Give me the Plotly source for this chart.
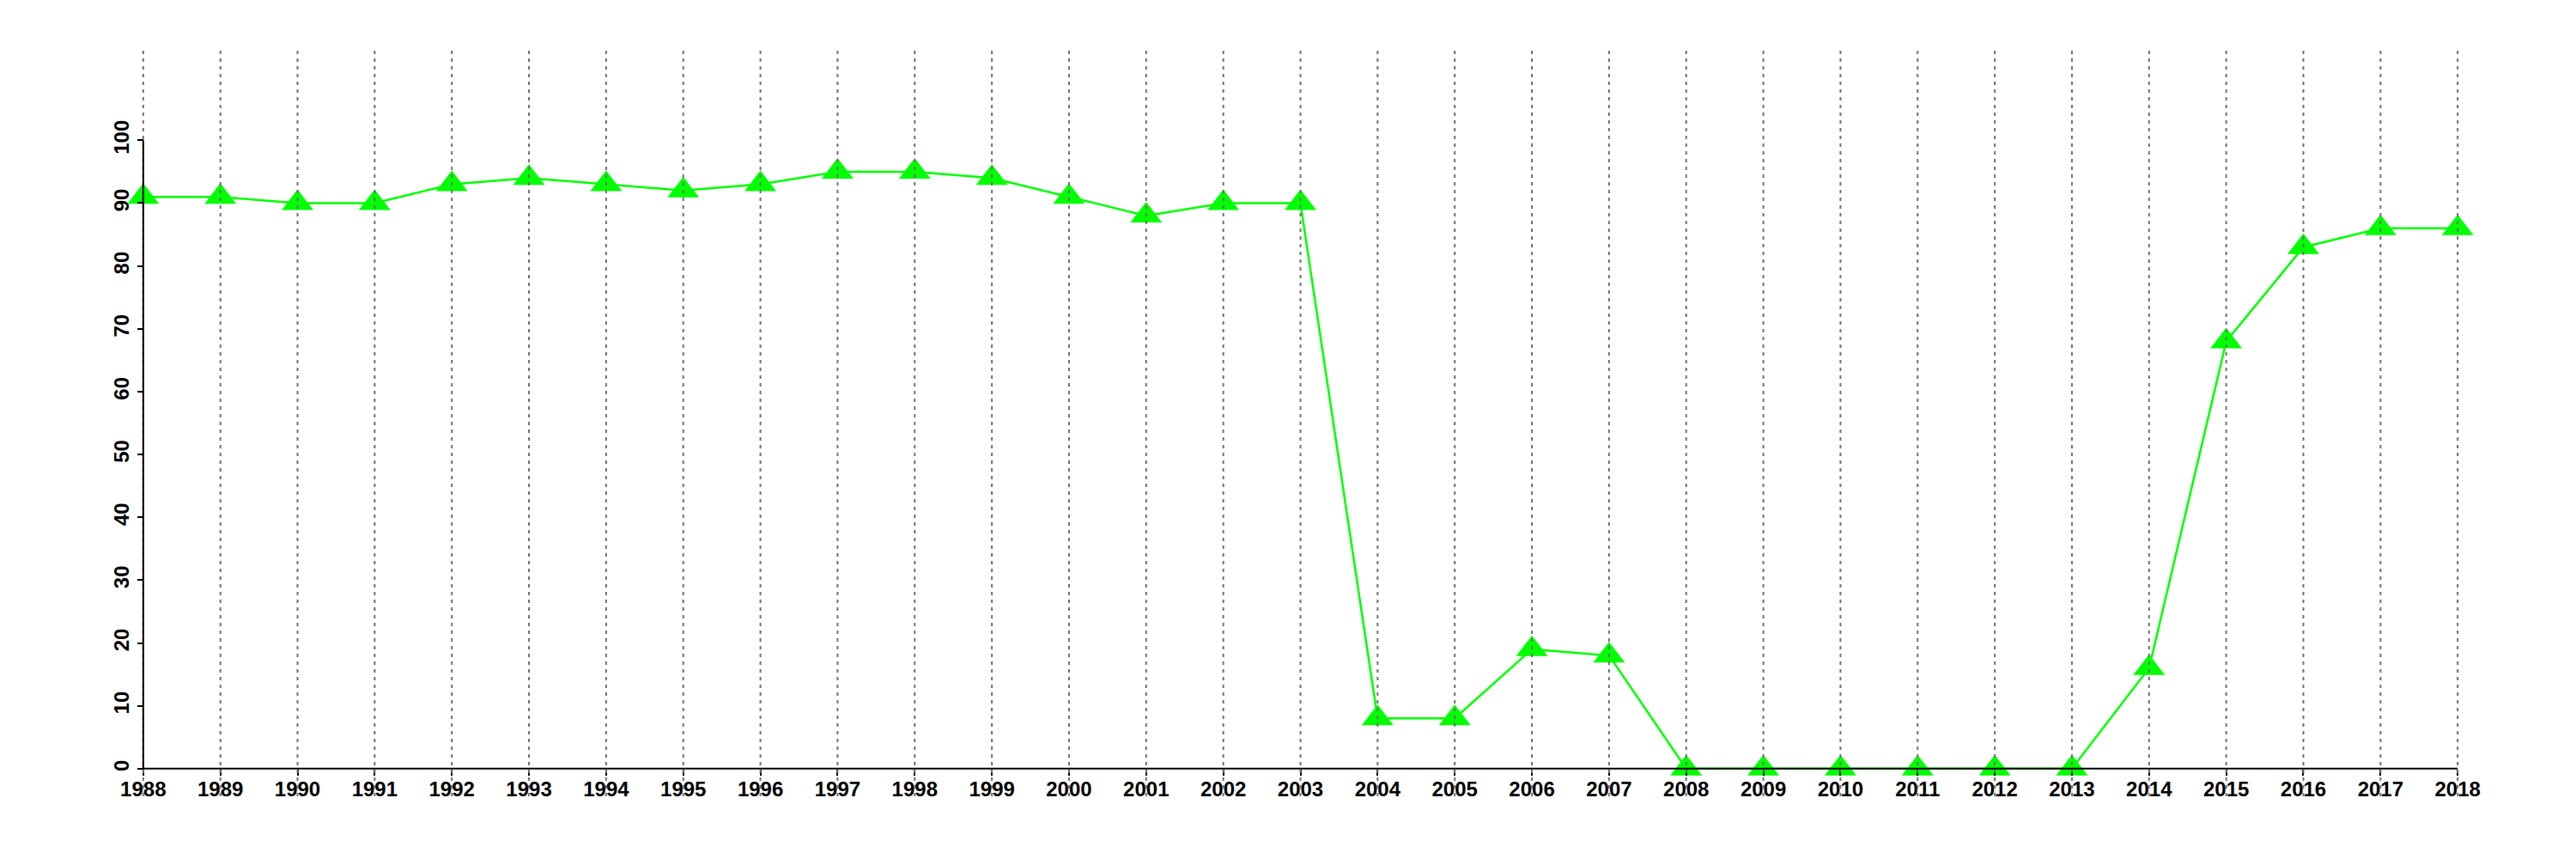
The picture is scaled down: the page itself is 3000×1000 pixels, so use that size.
import plotly.graph_objects as go

years = list(range(1988, 2019))
values = [91, 91, 90, 90, 93, 94, 93, 92, 93, 95, 95, 94, 91, 88, 90, 90,
          8, 8, 19, 18, 0, 0, 0, 0, 0, 0, 16, 68, 83, 86, 86]
y_ticks = [0, 10, 20, 30, 40, 50, 60, 70, 80, 90, 100]
y_lim = [0, 110]

pad_x = 0.04 * (years[-1] - years[0])
pad_y = 0.04 * (y_lim[1] - y_lim[0])
x_range = [years[0] - pad_x, years[-1] + pad_x]
y_range = [y_lim[0] - pad_y, y_lim[1] + pad_y]

green = "#00FF00"
font = dict(family="Liberation Sans, Arial, sans-serif", size=24, color="black", weight="bold")

fig = go.Figure()
fig.add_trace(go.Scatter(
    x=years, y=values, mode="lines+markers",
    line=dict(color=green, width=2.5),
    marker=dict(symbol="triangle-up", size=32, color=green, line=dict(width=0)),
    showlegend=False, hoverinfo="x+y",
))

shapes = []
for yr in years:
    shapes.append(dict(type="line", xref="x", yref="paper", x0=yr, x1=yr, y0=0, y1=1,
                       line=dict(color="#707070", width=2, dash="4px,5px"), layer="above"))
# axis lines spanning data extent only (R style)
shapes.append(dict(type="line", xref="x", yref="y", x0=years[0], x1=years[-1], y0=y_ticks[0], y1=y_ticks[0],
                   line=dict(color="black", width=2), layer="above"))
shapes.append(dict(type="line", xref="x", yref="y", x0=years[0], x1=years[0], y0=y_ticks[0], y1=y_ticks[-1],
                   line=dict(color="black", width=2), layer="above"))

pos_x = (years[0] - x_range[0]) / (x_range[1] - x_range[0])
pos_y = (y_lim[0] - y_range[0]) / (y_range[1] - y_range[0])

fig.update_layout(
    width=2984, height=984,
    margin=dict(l=51, r=22, t=50, b=65),
    paper_bgcolor="white", plot_bgcolor="white",
    shapes=shapes,
    xaxis=dict(range=x_range, anchor="free", position=pos_y, tickmode="array",
               tickvals=years, ticktext=[str(y) for y in years],
               showgrid=False, zeroline=False, showline=False,
               ticks="outside", ticklen=7, tickwidth=2, tickcolor="black",
               tickfont=font, layer="above traces", ticklabelstandoff=-5),
    yaxis=dict(range=y_range, anchor="free", position=pos_x, tickmode="array",
               tickvals=y_ticks, ticktext=[str(v) for v in y_ticks],
               showgrid=False, zeroline=False, showline=False,
               ticks="outside", ticklen=7, tickwidth=2, tickcolor="black",
               tickangle=-90, tickfont=font, layer="above traces"),
)

fig.write_html("out.html")
